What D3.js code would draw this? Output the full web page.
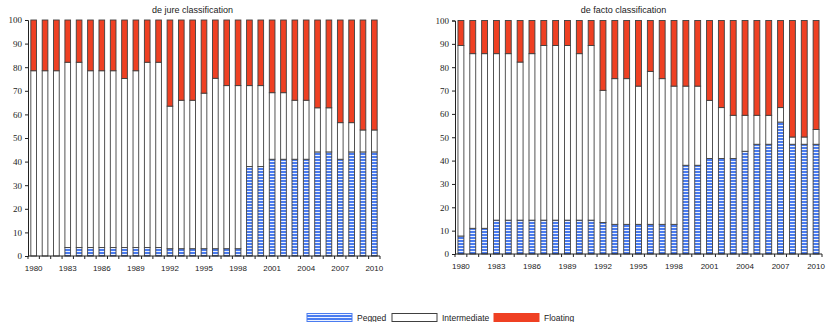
<!DOCTYPE html>
<html>
<head>
<meta charset="utf-8">
<script src="https://cdn.jsdelivr.net/npm/d3@7"></script>
<style>
  html, body { margin: 0; padding: 0; background: #fff; }
  svg { display: block; }
</style>
</head>
<body>
<svg id="chart" width="829" height="322"></svg>
<script>
// Exchange-rate regime shares (% of countries), 1980-2010
const years = d3.range(1980, 2011);
const tickYears = [1980, 1983, 1986, 1989, 1992, 1995, 1998, 2001, 2004, 2007, 2010];
const yTicks = [0, 10, 20, 30, 40, 50, 60, 70, 80, 90, 100];
const regimes = ["Pegged", "Intermediate", "Floating"];

// de jure classification
const jurePegged = [0, 0, 0, 3.6, 3.6, 3.6, 3.6, 3.6, 3.6, 3.6, 3.6, 3.6, 3.1, 3.1, 3.1, 3.1,
  3.1, 3.1, 3.1, 37.9, 37.9, 41, 41, 41, 41, 44.1, 44.1, 41, 44.1, 44.1, 44.1];
const jureIntermediate = [78.5, 78.5, 78.5, 78.5, 78.5, 74.9, 74.9, 74.9, 71.6, 74.9, 78.5, 78.5,
  60.4, 62.9, 62.9, 65.9, 72.2, 69.1, 69.1, 34.3, 34.3, 28.2, 28.2, 25, 25, 18.7, 18.7, 15.5, 12.4, 9.3, 9.3];
const jureFloating = [21.5, 21.5, 21.5, 17.9, 17.9, 21.5, 21.5, 21.5, 24.8, 21.5, 17.9, 17.9,
  36.5, 34, 34, 31, 24.7, 27.8, 27.8, 27.8, 27.8, 30.8, 30.8, 34, 34, 37.2, 37.2, 43.5, 43.5, 46.6, 46.6];

// de facto classification
const factoPegged = [7.7, 11, 11, 14.5, 14.5, 14.5, 14.5, 14.5, 14.5, 14.5, 14.5, 14.5, 13.5, 12.7,
  12.7, 12.7, 12.7, 12.7, 12.7, 38, 38, 40.9, 40.9, 40.9, 44, 47, 47, 56.5, 47, 47, 47];
const factoIntermediate = [81.6, 74.8, 74.8, 71.3, 71.3, 67.7, 71.3, 74.8, 74.8, 74.8, 71.3, 74.8,
  56.6, 62.4, 62.4, 59.2, 65.5, 62.4, 59.2, 33.9, 33.9, 24.9, 21.8, 18.5, 15.4, 12.4, 12.4, 6.2, 3.1, 3.1, 6.3];
const factoFloating = [10.7, 14.2, 14.2, 14.2, 14.2, 17.8, 14.2, 10.7, 10.7, 10.7, 14.2, 10.7,
  29.9, 24.9, 24.9, 28.1, 21.8, 24.9, 28.1, 28.1, 28.1, 34.2, 37.3, 40.6, 40.6, 40.6, 40.6, 37.3, 49.9, 49.9, 46.7];

const svg = d3.select("#chart");
const BLUE = "#4a7cf0";
const RED = "#ef4023";
const EDGE = "#404040";

// horizontal blue/white stripes for the pegged series
const defs = svg.append("defs");
const pat = defs.append("pattern")
  .attr("id", "stripes")
  .attr("patternUnits", "userSpaceOnUse")
  .attr("width", 8).attr("height", 3);
pat.append("rect").attr("width", 8).attr("height", 3).attr("fill", "#eef3ff");
pat.append("rect").attr("width", 8).attr("height", 2).attr("fill", BLUE);

const fills = { Pegged: "url(#stripes)", Intermediate: "#ffffff", Floating: RED };

function rows(peg, mid, flo) {
  return years.map((y, i) => ({ year: y, Pegged: peg[i], Intermediate: mid[i], Floating: flo[i] }));
}

function panel(opts) {
  const { title, titleX, left, right, top, bottom, data } = opts;
  const g = svg.append("g");

  const x = d3.scaleBand().domain(years).range([left, right])
    .paddingInner(0.5).paddingOuter(0.25);
  const y = d3.scaleLinear().domain([0, 100]).range([bottom, top]);

  const series = d3.stack().keys(regimes)(data);

  g.selectAll("g.series")
    .data(series)
    .join("g")
    .attr("class", "series")
    .attr("fill", d => fills[d.key])
    .selectAll("rect")
    .data(d => d.filter(s => s[1] - s[0] > 0))
    .join("rect")
    .attr("x", d => x(d.data.year))
    .attr("width", x.bandwidth())
    .attr("y", d => y(d[1]))
    .attr("height", d => y(d[0]) - y(d[1]))
    .attr("stroke", EDGE)
    .attr("stroke-width", 0.9);

  // y axis
  const yAxis = d3.axisLeft(y).tickValues(yTicks).tickSize(3).tickPadding(3);
  const ya = g.append("g").attr("transform", `translate(${left},0)`).call(yAxis);
  ya.select(".domain").attr("stroke", "#222");
  ya.selectAll(".tick line").attr("stroke", "#222");
  ya.selectAll(".tick text")
    .attr("font-family", "'Liberation Serif', 'Times New Roman', serif")
    .attr("font-size", 9).attr("fill", "#222");

  // x axis: ticks between bars, labels every three years
  const step = x.step();
  const xa = g.append("g");
  xa.append("line")
    .attr("x1", left).attr("x2", right)
    .attr("y1", bottom).attr("y2", bottom)
    .attr("stroke", "#222");
  xa.selectAll("line.tk")
    .data(d3.range(years.length + 1))
    .join("line")
    .attr("class", "tk")
    .attr("x1", i => left + i * step).attr("x2", i => left + i * step)
    .attr("y1", bottom).attr("y2", bottom + 3)
    .attr("stroke", "#222");
  xa.selectAll("text")
    .data(tickYears)
    .join("text")
    .attr("x", d => x(d) + x.bandwidth() / 2)
    .attr("y", bottom + 15)
    .attr("text-anchor", "middle")
    .attr("font-family", "'Liberation Sans', Arial, sans-serif")
    .attr("font-size", 8)
    .attr("fill", "#222")
    .text(d => d);

  g.append("text")
    .attr("x", titleX).attr("y", 13)
    .attr("text-anchor", "middle")
    .attr("font-family", "'Liberation Sans', Arial, sans-serif")
    .attr("font-size", 9)
    .attr("fill", "#222")
    .text(title);
}

panel({ title: "de jure classification", titleX: 192.5, left: 28, right: 380, top: 20, bottom: 256,
  data: rows(jurePegged, jureIntermediate, jureFloating) });
panel({ title: "de facto classification", titleX: 623.5, left: 455, right: 822, top: 20.5, bottom: 254,
  data: rows(factoPegged, factoIntermediate, factoFloating) });

// legend
const legendItems = [
  { key: "Pegged", x: 307, stroke: BLUE },
  { key: "Intermediate", x: 392, stroke: EDGE },
  { key: "Floating", x: 494, stroke: RED }
];
const lg = svg.append("g");
const items = lg.selectAll("g").data(legendItems).join("g");
items.append("rect")
  .attr("x", d => d.x).attr("y", 313.5)
  .attr("width", 45).attr("height", 8)
  .attr("fill", d => fills[d.key])
  .attr("stroke", d => d.stroke)
  .attr("stroke-width", 1);
items.append("text")
  .attr("x", d => d.x + 50).attr("y", 321)
  .attr("font-family", "'Liberation Sans', Arial, sans-serif")
  .attr("font-size", 8.5)
  .attr("fill", "#222")
  .text(d => d.key);
</script>
</body>
</html>
